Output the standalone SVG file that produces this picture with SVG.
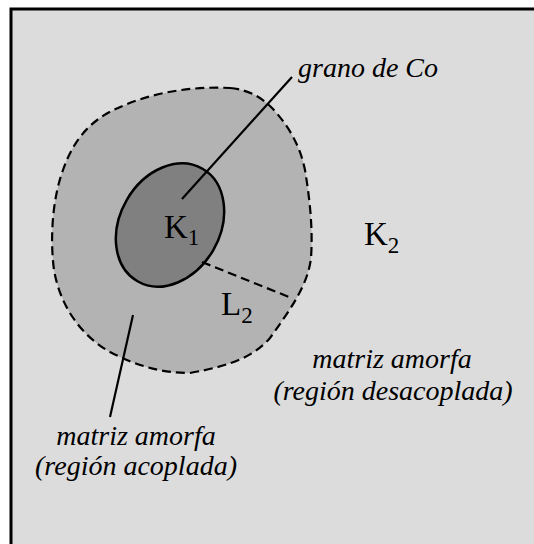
<svg xmlns="http://www.w3.org/2000/svg" width="534" height="544" viewBox="0 0 534 544">
<style>
.it{font-family:"Liberation Serif","Times New Roman",serif;font-style:italic;font-size:28px;fill:#000}
.rg{font-family:"Liberation Serif","Times New Roman",serif;font-size:33px;fill:#000}
.sb{font-size:23px}
.ln{stroke:#000;stroke-width:2.2;fill:none}
.dl{stroke:#000;stroke-width:2.2;fill:none;stroke-dasharray:9,5}
</style>
<rect x="11" y="9" width="560" height="560" fill="#dcdcdc" stroke="#000" stroke-width="3"/>
<g id="matriz-acoplada">
<path d="M230,88 C250,90 262,98 272,108 C288,125 300,145 305,170 C310,200 313,230 311,258 C308,285 290,310 270,338 C255,355 235,365 190,373 C160,373 135,365 110,352 C80,335 60,305 54,270 C50,240 52,200 63,170 C75,135 95,118 118,108 C150,93 190,86 230,88 Z" class="dl" style="fill:#b3b3b3"/>
</g>
<g id="grano">
<ellipse cx="170" cy="225" rx="50" ry="65" transform="rotate(30 170 225)" class="ln" style="fill:#808080;stroke-width:2.5"/>
</g>
<g id="connectors">
<line x1="292" y1="77" x2="182" y2="199" class="ln"/>
<line x1="133" y1="315" x2="110" y2="417" class="ln"/>
<line x1="202" y1="262" x2="289" y2="297" class="dl"/>
</g>
<g id="labels">
<text x="164" y="238" class="rg">K<tspan class="sb" dy="7">1</tspan></text>
<text x="364" y="245" class="rg">K<tspan class="sb" dy="8">2</tspan></text>
<text x="221" y="315" class="rg">L<tspan class="sb" dy="8">2</tspan></text>
<text x="298" y="77" class="it">grano de Co</text>
<text x="392" y="368" class="it" text-anchor="middle">matriz amorfa</text>
<text x="393" y="400" class="it" text-anchor="middle">(región desacoplada)</text>
<text x="136" y="445" class="it" text-anchor="middle">matriz amorfa</text>
<text x="136" y="475" class="it" text-anchor="middle">(región acoplada)</text>
</g>
</svg>
